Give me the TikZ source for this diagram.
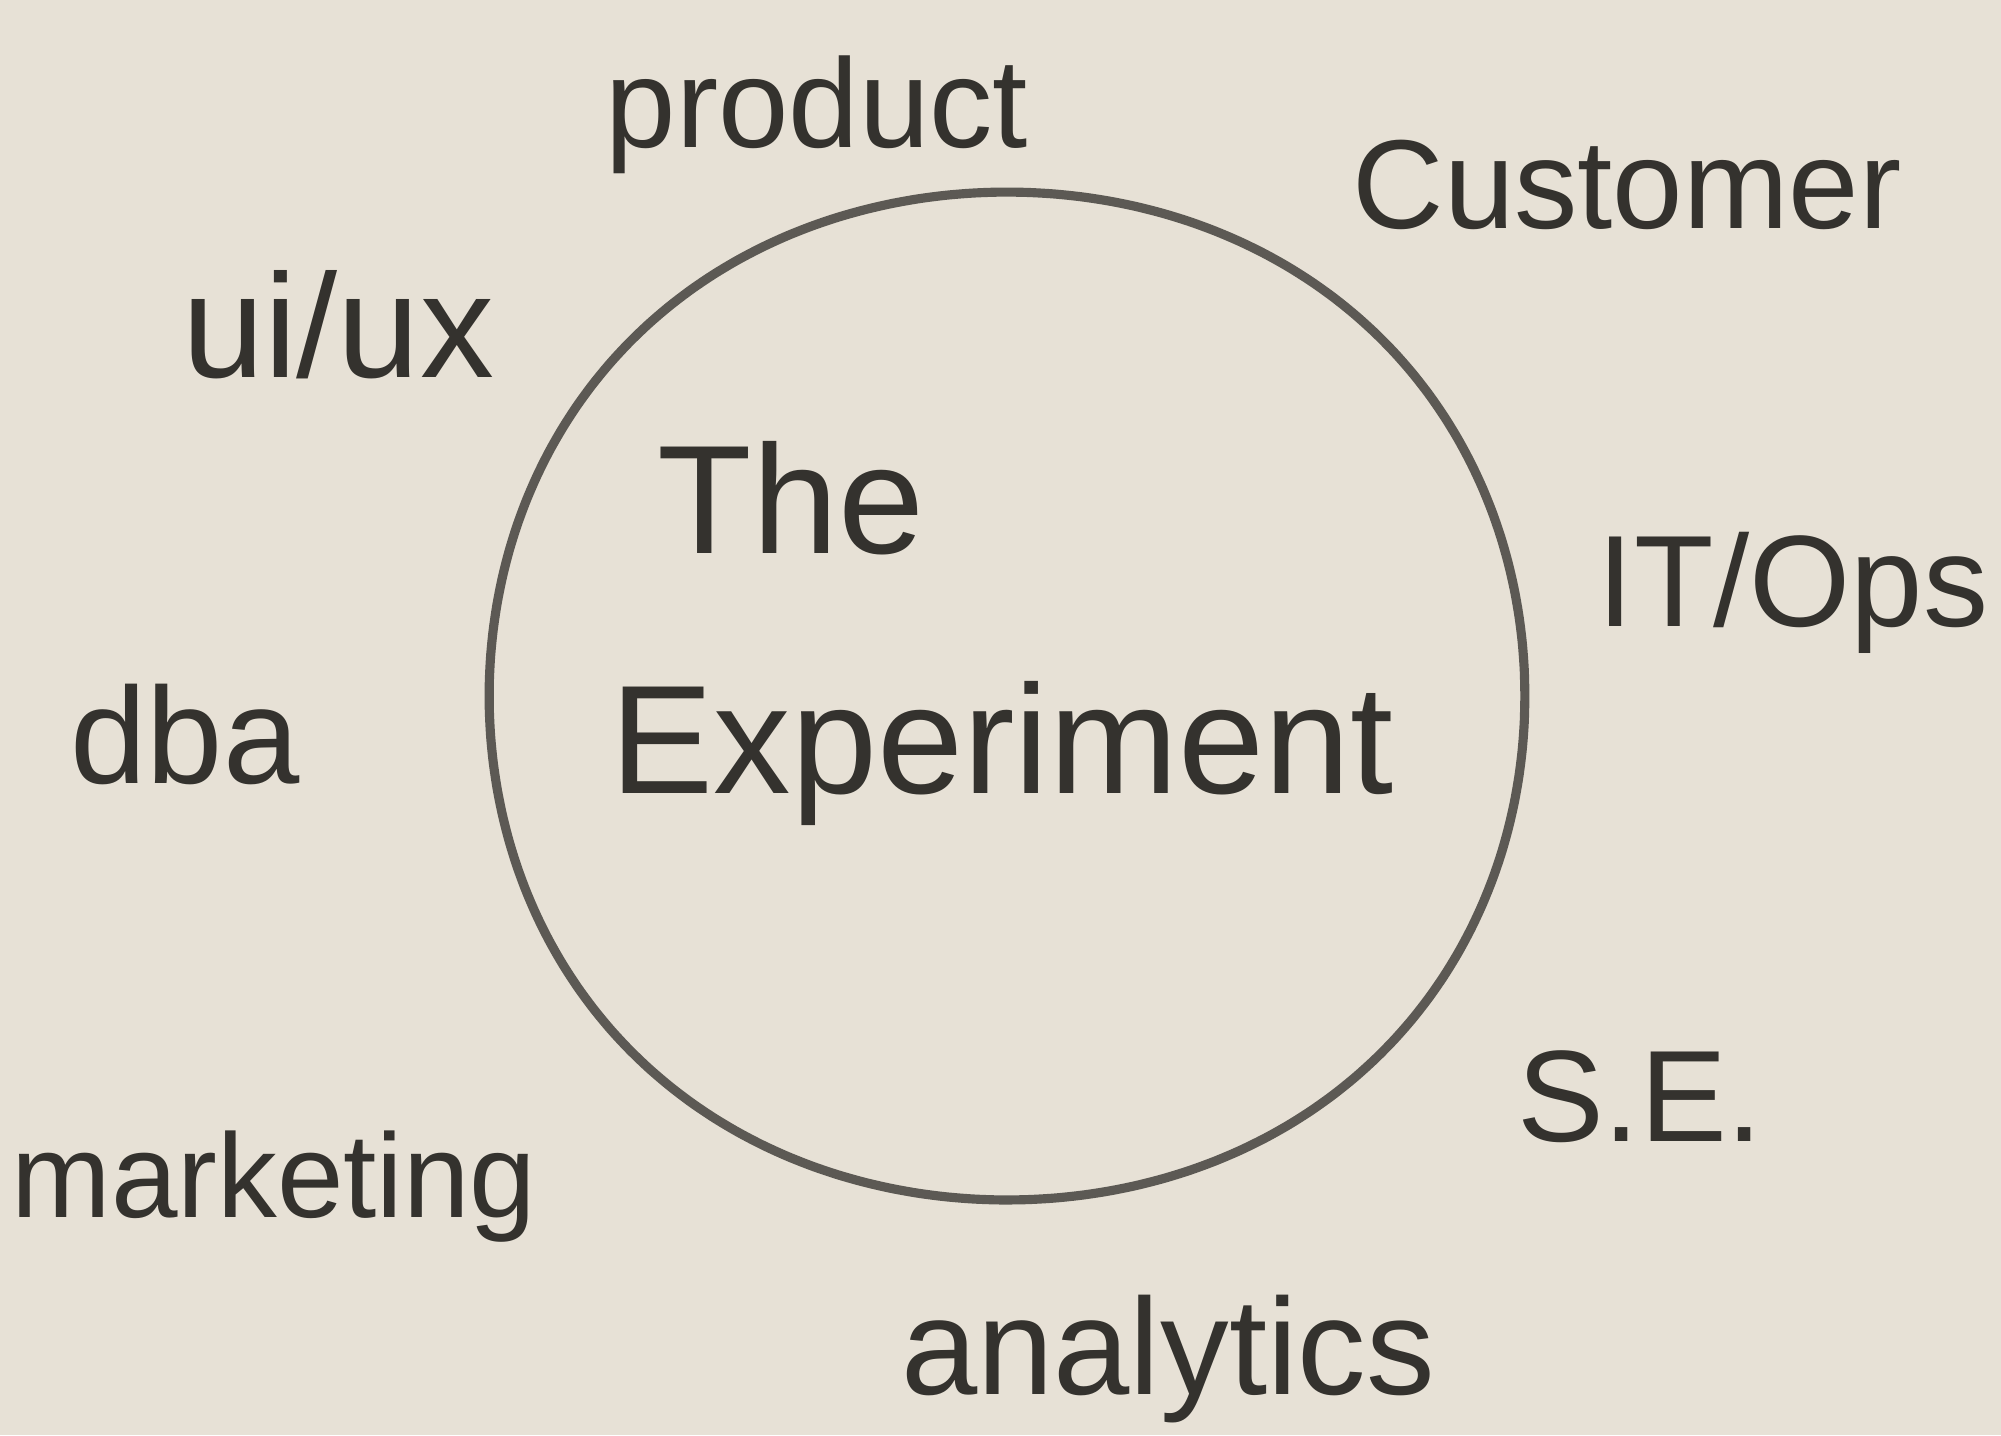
\documentclass[tikz,border=0pt]{standalone}
\usepackage{fontspec}
\setmainfont{Liberation Sans}
\definecolor{paper}{RGB}{231,225,214}
\definecolor{ink}{RGB}{52,50,46}
\definecolor{pencil}{RGB}{92,89,84}
\tikzset{
  lbl/.style={text=ink, inner sep=0pt, anchor=center},
}
\begin{document}
\begin{tikzpicture}[x=0.01cm,y=-0.01cm]
\fill[paper] (0,0) rectangle (2001,1435);
\useasboundingbox (0,0) rectangle (2001,1435);
% hand-drawn circle
\coordinate (c) at (1007,696);
\draw[pencil, line width=2.6pt, line join=round, shift={(c)}]
  plot[smooth, samples=120, domain=0:360, variable=\t]
  ({521*(1-0.006*cos(4*\t))*cos(\t)}, {507*(1-0.006*cos(4*\t))*sin(\t)}) -- cycle;
\node[lbl, font=\fontsize{36}{40}\selectfont] (product) at (817,115) {product};
\node[lbl, font=\fontsize{36}{40}\selectfont] (customer) at (1627,185) {Customer};
\node[lbl, font=\fontsize{42}{46}\selectfont] (uiux) at (338,325) {ui/ux};
\node[lbl, font=\fontsize{44}{48}\selectfont] (the) at (791,498) {The};
\node[lbl, font=\fontsize{44}{48}\selectfont] (experiment) at (1002,753) {Experiment};
\node[lbl, font=\fontsize{37}{40}\selectfont] (itops) at (1793,593) {IT/Ops};
\node[lbl, font=\fontsize{39}{42}\selectfont] (dba) at (185,734) {dba};
\node[lbl, font=\fontsize{37}{40}\selectfont] (se) at (1640,1097) {S.E.};
\node[lbl, font=\fontsize{34}{38}\selectfont] (marketing) at (274,1187) {marketing};
\node[lbl, font=\fontsize{39}{42}\selectfont] (analytics) at (1168,1359) {analytics};
\end{tikzpicture}
\end{document}
